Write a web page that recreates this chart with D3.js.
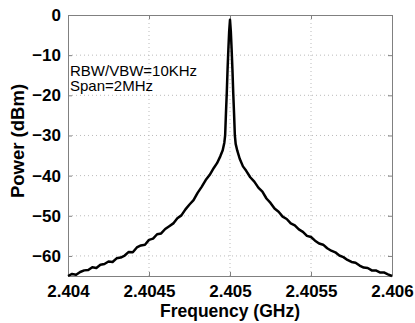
<!DOCTYPE html>
<html>
<head>
<meta charset="utf-8">
<script src="https://cdn.jsdelivr.net/npm/d3@7"></script>
<style>
  body { margin: 0; background: #fff; }
  text { font-family: Arial, "Liberation Sans", sans-serif; }
</style>
</head>
<body>
<div id="chart"></div>
<script>
// frequency in MHz, power in dBm
const freqMHz = [
  2404.000, 2404.025, 2404.050, 2404.075, 2404.100, 2404.125, 2404.150, 2404.175,
  2404.200, 2404.225, 2404.250, 2404.275, 2404.300, 2404.325, 2404.350, 2404.375,
  2404.400, 2404.425, 2404.450, 2404.475, 2404.500, 2404.525, 2404.550, 2404.575,
  2404.600, 2404.625, 2404.650, 2404.675, 2404.700, 2404.725, 2404.750, 2404.775,
  2404.800, 2404.825, 2404.850, 2404.875, 2404.900, 2404.920, 2404.940, 2404.955,
  2404.965, 2404.970, 2404.975, 2404.980, 2404.985, 2404.990, 2404.995, 2405.000,
  2405.005, 2405.010, 2405.015, 2405.020, 2405.025, 2405.030, 2405.035, 2405.045,
  2405.060, 2405.080, 2405.100, 2405.125, 2405.150, 2405.175, 2405.200, 2405.225,
  2405.250, 2405.275, 2405.300, 2405.325, 2405.350, 2405.375, 2405.400, 2405.425,
  2405.450, 2405.475, 2405.500, 2405.525, 2405.550, 2405.575, 2405.600, 2405.625,
  2405.650, 2405.675, 2405.700, 2405.725, 2405.750, 2405.775, 2405.800, 2405.825,
  2405.850, 2405.875, 2405.900, 2405.925, 2405.950, 2405.975, 2406.000
];
const powerDbm = [
  -65.0, -64.5, -64.7, -64.0, -63.6, -63.5, -62.8, -63.0,
  -62.2, -62.0, -61.4, -61.5, -60.6, -60.4, -59.9, -59.0,
  -59.1, -57.9, -57.4, -57.2, -56.0, -55.7, -54.6, -54.4,
  -53.3, -52.6, -51.9, -50.6, -49.9, -48.4, -47.2, -46.1,
  -44.3, -42.8, -41.1, -39.8, -38.1, -36.9, -35.2, -33.7,
  -31.8, -30.0, -24.5, -19.5, -13.5, -8.5, -4.0, -1.2,
  -4.0, -8.5, -13.5, -19.5, -24.5, -30.0, -32.1, -33.8,
  -35.8, -37.7, -38.8, -40.4, -41.5, -43.0, -44.0, -45.7,
  -46.8, -48.2, -49.0, -50.2, -50.8, -51.9, -52.4, -53.4,
  -54.0, -55.0, -55.3, -56.2, -56.9, -57.2, -58.1, -58.7,
  -59.1, -59.9, -60.3, -61.0, -61.5, -61.7, -62.4, -62.9,
  -63.0, -63.6, -63.6, -64.1, -64.1, -64.6, -65.0
];
const xTicks = [2404, 2404.5, 2405, 2405.5, 2406];
const xTickLabels = ['2.404', '2.4045', '2.405', '2.4055', '2.406'];
const yTicks = [0, -10, -20, -30, -40, -50, -60];
const notes = ['RBW/VBW=10KHz', 'Span=2MHz'];

const width = 415, height = 323;
const margin = { top: 15, right: 23, bottom: 47, left: 68 };

const svg = d3.select('#chart').append('svg')
  .attr('width', width)
  .attr('height', height);

const x = d3.scaleLinear().domain([2404, 2406]).range([margin.left, width - margin.right]);
const y = d3.scaleLinear().domain([-65, 0]).range([height - margin.bottom, margin.top]);

const x0 = margin.left, x1 = width - margin.right;
const y0 = height - margin.bottom, y1 = margin.top;

// dotted grid
svg.append('g')
  .selectAll('line')
  .data(xTicks.slice(1, -1))
  .enter().append('line')
  .attr('x1', d => x(d)).attr('x2', d => x(d))
  .attr('y1', y0).attr('y2', y1)
  .attr('stroke', '#bbb').attr('stroke-dasharray', '1,3');

svg.append('g')
  .selectAll('line')
  .data(yTicks.slice(1))
  .enter().append('line')
  .attr('x1', x0).attr('x2', x1)
  .attr('y1', d => y(d)).attr('y2', d => y(d))
  .attr('stroke', '#bbb').attr('stroke-dasharray', '1,3');

// axes, ticks pointing inward
svg.append('g')
  .attr('transform', `translate(0,${y0})`)
  .call(d3.axisBottom(x).tickValues(xTicks).tickSizeInner(-4).tickSizeOuter(0)
    .tickPadding(9).tickFormat((d, i) => xTickLabels[i]));

svg.append('g')
  .attr('transform', `translate(${x0},0)`)
  .call(d3.axisLeft(y).tickValues(yTicks).tickSizeInner(-4).tickSizeOuter(0)
    .tickPadding(7).tickFormat(d => d === 0 ? '0' : '\u2212' + Math.abs(d)));

svg.append('g')
  .attr('transform', `translate(0,${y1})`)
  .call(d3.axisTop(x).tickValues(xTicks).tickSizeInner(-4).tickSizeOuter(0).tickFormat(''));

svg.append('g')
  .attr('transform', `translate(${x1},0)`)
  .call(d3.axisRight(y).tickValues(yTicks).tickSizeInner(-4).tickSizeOuter(0).tickFormat(''));

svg.selectAll('.domain').attr('stroke', '#808080');
svg.selectAll('.tick line').attr('stroke', '#808080');
svg.selectAll('.tick text')
  .attr('fill', '#000')
  .style('font-size', '17px')
  .style('font-weight', 'bold');

// trace
const pts = freqMHz.map((f, i) => [f, powerDbm[i]]);
svg.append('path')
  .datum(pts)
  .attr('fill', 'none')
  .attr('stroke', '#000')
  .attr('stroke-width', 2.5)
  .attr('stroke-linejoin', 'round')
  .attr('d', d3.line().x(d => x(d[0])).y(d => y(d[1])));

// annotation
svg.selectAll('.note')
  .data(notes)
  .enter().append('text')
  .attr('class', 'note')
  .attr('x', 70)
  .attr('y', (d, i) => 75.5 + i * 15.5)
  .style('font-size', '15px')
  .text(d => d);

// axis titles
svg.append('text')
  .attr('x', (x0 + x1) / 2)
  .attr('y', 317)
  .attr('text-anchor', 'middle')
  .style('font-size', '17.5px')
  .style('font-weight', 'bold')
  .text('Frequency (GHz)');

svg.append('text')
  .attr('transform', 'translate(24,141) rotate(-90)')
  .attr('text-anchor', 'middle')
  .style('font-size', '18.5px')
  .style('font-weight', 'bold')
  .text('Power (dBm)');
</script>
</body>
</html>
